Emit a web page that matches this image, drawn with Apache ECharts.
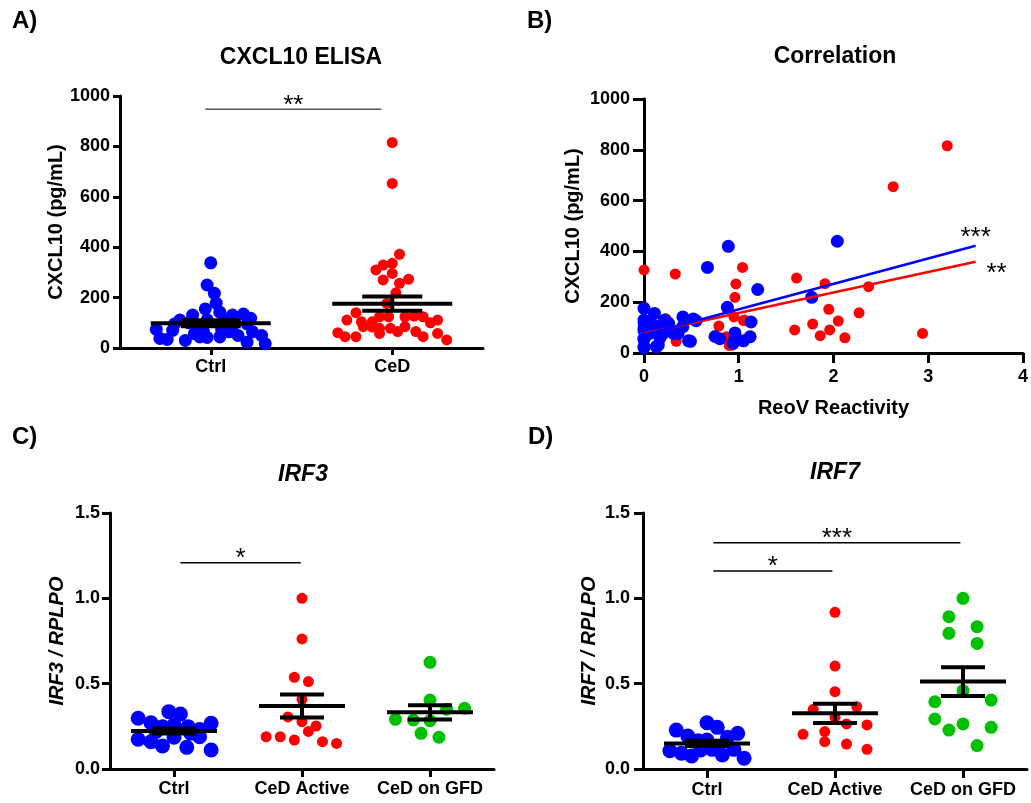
<!DOCTYPE html>
<html>
<head>
<meta charset="utf-8">
<script src="https://cdn.jsdelivr.net/npm/echarts@6.0.0/dist/echarts.min.js"></script>
<style>
  html, body { margin: 0; padding: 0; background: #fff; }
  #main { width: 1031px; height: 803px; }
</style>
</head>
<body>
<div id="main"></div>
<script>
/* A) CXCL10 ELISA : [jitter, pg/mL] */
const elisaCats = ['Ctrl', 'CeD']
const elisaCtrl = [
    [0, 338], [-0.02, 250], [0.02, 217], [0.03, 178], [-0.03, 155], [0.05, 142], [0.18, 135], [0.12, 131],
    [-0.1, 131], [-0.17, 111], [-0.3, 74], [-0.28, 38], [-0.24, 34], [-0.21, 70], [-0.14, 30], [-0.09, 57],
    [-0.06, 44], [-0.02, 42], [0.05, 44], [0.1, 64], [0.15, 50], [0.2, 23], [0.23, 64], [0.28, 50],
    [0.3, 17], [0.2, 96], [-0.12, 100], [-0.02, 112], [0.08, 108], [-0.08, 92], [0.12, 88], [0.22, 118],
    [-0.2, 95], [0.06, 71], [-0.04, 65]
]
const elisaCeD = [
    [0, 815], [0, 653], [0.04, 372], [-0.09, 310], [-0.05, 329], [0, 336], [-0.05, 270], [0, 296],
    [0.09, 273], [0.04, 257], [0.02, 219], [-0.03, 177], [-0.2, 140], [-0.25, 111], [-0.17, 104], [-0.11, 104],
    [-0.16, 85], [-0.11, 83], [-0.07, 124], [-0.02, 124], [0.07, 124], [0.12, 127], [0.17, 124], [0.21, 100],
    [0.25, 111], [-0.07, 78], [-0.01, 78], [0.03, 65], [0.07, 85], [0.13, 65], [0.17, 45], [0.25, 58],
    [0.3, 32], [-0.07, 58], [-0.3, 61], [-0.26, 45], [-0.2, 45]
]
const elisaMean = [[0, 98, 12], [1, 176, 28]]   // [group, mean, sem]
const elisaSig = [[-0.03, 0.94, 947]]
const elisaSigText = ['**']

/* B) Correlation : [ReoV reactivity, pg/mL] */
const corrCeD = [
    [3.2, 816], [2.63, 655], [0, 327], [0.33, 311], [1.04, 337], [0.97, 272], [0.96, 219], [1.61, 295],
    [1.91, 273], [2.37, 261], [1.95, 172], [2.27, 158], [1.78, 114], [1.59, 91], [2.05, 126], [1.96, 91],
    [1.86, 68], [2.12, 60], [2.94, 77], [0.95, 142], [1.05, 128], [0.79, 106], [0.87, 64], [0.93, 31],
    [0.34, 46], [0.23, 135], [0.25, 115], [0.09, 117], [0.2, 128], [0.9, 30], [1.06, 130]
]
const corrCtrl = [
    [2.04, 440], [0.89, 420], [0.67, 337], [1.2, 250], [1.77, 219], [0.88, 180], [0, 176], [0.11, 156],
    [1.13, 122], [0.41, 142], [0.52, 134], [0.22, 130], [0, 130], [0, 97], [0.13, 104], [0.27, 91],
    [0.41, 104], [0.36, 77], [0.2, 77], [0, 58], [0, 25], [0.13, 25], [0.47, 48], [0.75, 65],
    [0.8, 56], [0.96, 79], [0.94, 38], [1.05, 48], [1.12, 64], [0.96, 60], [0, 119], [0, 87],
    [0, 54], [0.06, 77], [0.15, 31], [0.22, 87], [0.26, 117], [0.31, 77], [0.49, 46], [0.55, 127],
    [0, 21], [0.06, 110], [0.17, 60]
]
const fitCtrl = [[0, 72], [3.5, 422]]
const fitCeD = [[0, 77], [3.5, 359]]

/* C) IRF3 / D) IRF7 : [jitter, ratio] */
const qpcrCats = ['Ctrl', 'CeD Active', 'CeD on GFD']
const irf3Ctrl = [
    [-0.28, 0.297], [-0.18, 0.271], [-0.09, 0.248], [-0.04, 0.336], [0.05, 0.322], [0, 0.258], [0.11, 0.248],
    [0.2, 0.232], [0.29, 0.268], [-0.28, 0.174], [-0.18, 0.16], [-0.09, 0.135], [0, 0.186], [0.1, 0.127],
    [0.2, 0.189], [0.29, 0.111], [-0.14, 0.22], [0.13, 0.21]
]
const irf3Active = [
    [0, 1.0], [0, 0.762], [-0.06, 0.537], [0.05, 0.512], [0, 0.408], [-0.11, 0.305], [0, 0.277],
    [0.11, 0.252], [0.05, 0.22], [-0.28, 0.189], [-0.17, 0.189], [-0.06, 0.17], [0.16, 0.16], [0.27, 0.15]
]
const irf3Gfd = [
    [0, 0.625], [0, 0.404], [0.13, 0.35], [0.27, 0.356], [-0.27, 0.291], [-0.13, 0.287], [0, 0.283],
    [-0.07, 0.209], [0.07, 0.186]
]
const irf3Mean = [[0, 0.223, 0.015], [1, 0.369, 0.067], [2, 0.332, 0.042]]
const irf3Sig = [[0.05, 0.99, 1.208]]
const irf3SigText = ['*']

const irf7Ctrl = [
    [-0.24, 0.228], [-0.15, 0.193], [-0.07, 0.166], [0, 0.271], [0.08, 0.244], [0, 0.17], [0.16, 0.186],
    [0.24, 0.209], [-0.29, 0.107], [-0.2, 0.092], [-0.12, 0.076], [-0.05, 0.111], [0.04, 0.115],
    [0.12, 0.082], [0.21, 0.115], [0.29, 0.063]
]
const irf7Active = [
    [0, 0.918], [0, 0.603], [0, 0.453], [-0.17, 0.35], [0.17, 0.365], [0, 0.303], [0.09, 0.264],
    [0.25, 0.258], [-0.25, 0.203], [-0.08, 0.219], [-0.08, 0.16], [0.09, 0.146], [0.25, 0.115]
]
const irf7Gfd = [
    [0, 1.0], [-0.11, 0.892], [0.11, 0.834], [-0.11, 0.795], [0.11, 0.736], [0, 0.459], [-0.22, 0.394],
    [0.22, 0.404], [-0.22, 0.293], [0, 0.264], [-0.11, 0.228], [0.22, 0.244], [0.11, 0.137]
]
const irf7Mean = [[0, 0.15, 0.015], [1, 0.326, 0.057], [2, 0.512, 0.084]]
const irf7Sig = [[0.05, 1.98, 1.326], [0.05, 0.98, 1.16]]
const irf7SigText = ['***', '*']

const BLUE = '#0000ff', RED = '#ff0000', GREEN = '#00c000'
const FONT = '"Liberation Sans", Arial, sans-serif'

/* 平移分组坐标 */
function shift (list, group) {
    return list.map(p => [p[0] + group, p[1]])
}

/* 均值 ± SEM */
function meanSem (halfMean, halfCap) {
    return function (params, api) {
        const x = api.value(0), m = api.value(1), s = api.value(2)
        const c = api.coord([x, m]), hi = api.coord([x, m + s]), lo = api.coord([x, m - s])
        const st = { stroke: '#000', lineWidth: 4 }
        return {
            type: 'group',
            children: [
                { type: 'line', shape: { x1: c[0] - halfMean, y1: c[1], x2: c[0] + halfMean, y2: c[1] }, style: st },
                { type: 'line', shape: { x1: c[0] - halfCap, y1: hi[1], x2: c[0] + halfCap, y2: hi[1] }, style: st },
                { type: 'line', shape: { x1: c[0] - halfCap, y1: lo[1], x2: c[0] + halfCap, y2: lo[1] }, style: st },
                { type: 'line', shape: { x1: c[0], y1: hi[1], x2: c[0], y2: lo[1] }, style: st }
            ]
        }
    }
}

/* 显著性标记 */
function sigBar (texts, color) {
    return function (params, api) {
        const a = api.coord([api.value(0), api.value(2)])
        const b = api.coord([api.value(1), api.value(2)])
        return {
            type: 'group',
            children: [
                { type: 'line', shape: { x1: a[0], y1: a[1], x2: b[0], y2: b[1] }, style: { stroke: color, lineWidth: 1.5 } },
                {
                    type: 'text', x: (a[0] + b[0]) / 2, y: a[1] - 4,
                    style: {
                        text: texts[params.dataIndex], fill: '#000', font: '26px ' + FONT,
                        textAlign: 'center', align: 'center', textVerticalAlign: 'middle', verticalAlign: 'middle'
                    }
                }
            ]
        }
    }
}

function dots (data, color, size, xi, yi) {
    return {
        type: 'scatter', data: data, xAxisIndex: xi, yAxisIndex: yi,
        symbol: 'circle', symbolSize: size, itemStyle: { color: color, opacity: 1 }, z: 2
    }
}

const labelStyle = { color: '#000', fontSize: 18, fontWeight: 'bold', fontFamily: FONT }
const lineStyle = { color: '#000', width: 3 }

function catAxis (grid, cats, tickLen, margin) {
    return {
        type: 'category', gridIndex: grid, data: cats, boundaryGap: true, position: 'bottom',
        axisLine: { show: true, onZero: false, lineStyle: lineStyle },
        axisTick: { show: true, alignWithLabel: true, length: tickLen, lineStyle: lineStyle },
        axisLabel: Object.assign({ margin: margin, interval: 0 }, labelStyle),
        splitLine: { show: false }
    }
}
function hiddenAxis (grid, n) {
    return { type: 'value', gridIndex: grid, min: -0.5, max: n - 0.5, show: false, position: 'bottom' }
}
function valAxis (grid, max, interval, tickLen, margin, name, gap, italic, fmt) {
    return {
        type: 'value', gridIndex: grid, min: 0, max: max, interval: interval,
        name: name, nameLocation: 'middle', nameGap: gap,
        nameTextStyle: { color: '#000', fontSize: 20, fontWeight: 'bold', fontFamily: FONT, fontStyle: italic ? 'italic' : 'normal' },
        axisLine: { show: true, onZero: false, lineStyle: lineStyle },
        axisTick: { show: true, length: tickLen, lineStyle: lineStyle },
        axisLabel: Object.assign({ margin: margin, formatter: fmt }, labelStyle),
        splitLine: { show: false }
    }
}

function title (text, left, top, size, italic) {
    return {
        text: text, left: left, top: top, textAlign: 'center', padding: 0,
        textStyle: { color: '#000', fontSize: size, fontWeight: 'bold', fontFamily: FONT, fontStyle: italic ? 'italic' : 'normal' }
    }
}
function letter (text, left, top) {
    return {
        text: text, left: left, top: top, padding: 0,
        textStyle: { color: '#000', fontSize: 24, fontWeight: 'bold', fontFamily: FONT }
    }
}

const plain = v => String(v)
const fixed1 = v => v.toFixed(1)

const chart = echarts.init(document.getElementById('main'))
chart.setOption({
    animation: false,
    backgroundColor: '#fff',
    title: [
        letter('A)', 12, 9), letter('B)', 527, 9), letter('C)', 12, 425), letter('D)', 528, 425),
        title('CXCL10 ELISA', 301, 46, 23, false),
        title('Correlation', 835, 45, 23, false),
        title('IRF3', 303, 463, 23, true),
        title('IRF7', 835, 461, 23, true)
    ],
    grid: [
        { left: 120, top: 96, width: 363, height: 252 },
        { left: 644, top: 99, width: 382, height: 254 },
        { left: 110, top: 513, width: 384, height: 256 },
        { left: 643, top: 513, width: 384, height: 256 }
    ],
    xAxis: [
        catAxis(0, elisaCats, 7, 10),
        hiddenAxis(0, 2),
        {
            type: 'value', gridIndex: 1, min: 0, max: 4, interval: 1,
            name: 'ReoV Reactivity', nameLocation: 'middle', nameGap: 45,
            nameTextStyle: { color: '#000', fontSize: 20, fontWeight: 'bold', fontFamily: FONT },
            axisLine: { show: true, onZero: false, lineStyle: lineStyle },
            axisTick: { show: true, length: 10, lineStyle: lineStyle },
            axisLabel: Object.assign({ margin: 15 }, labelStyle),
            splitLine: { show: false }
        },
        catAxis(2, qpcrCats, 8, 11),
        hiddenAxis(2, 3),
        catAxis(3, qpcrCats, 9, 12),
        hiddenAxis(3, 3)
    ],
    yAxis: [
        valAxis(0, 1000, 200, 7, 10, 'CXCL10 (pg/mL)', 54, false, plain),
        valAxis(1, 1000, 200, 11, 14, 'CXCL10 (pg/mL)', 61, false, plain),
        valAxis(2, 1.5, 0.5, 8, 10, 'IRF3 / RPLPO', 43, true, fixed1),
        valAxis(3, 1.5, 0.5, 9, 13, 'IRF7 / RPLPO', 44, true, fixed1)
    ],
    series: [
        /* A */
        dots(shift(elisaCtrl, 0), BLUE, 13, 1, 0),
        dots(shift(elisaCeD, 1), RED, 11, 1, 0),
        { type: 'custom', xAxisIndex: 1, yAxisIndex: 0, data: elisaMean, renderItem: meanSem(60, 30), z: 5 },
        { type: 'custom', xAxisIndex: 1, yAxisIndex: 0, data: elisaSig, renderItem: sigBar(elisaSigText, '#555'), z: 5 },

        /* B */
        dots(corrCeD, RED, 11, 2, 1),
        dots(corrCtrl, BLUE, 13, 2, 1),
        {
            type: 'line', xAxisIndex: 2, yAxisIndex: 1, symbol: 'none', z: 4, data: fitCeD,
            lineStyle: { color: RED, width: 2.5 },
            endLabel: {
                show: true, formatter: '**', distance: 0, align: 'center', verticalAlign: 'middle',
                offset: [21, 12], color: '#000', fontSize: 26, fontFamily: FONT
            }
        },
        {
            type: 'line', xAxisIndex: 2, yAxisIndex: 1, symbol: 'none', z: 4, data: fitCtrl,
            lineStyle: { color: BLUE, width: 2.5 },
            endLabel: {
                show: true, formatter: '***', distance: 0, align: 'center', verticalAlign: 'middle',
                offset: [0, -8], color: '#000', fontSize: 26, fontFamily: FONT
            }
        },

        /* C */
        dots(shift(irf3Ctrl, 0), BLUE, 15, 4, 2),
        dots(shift(irf3Active, 1), RED, 11, 4, 2),
        dots(shift(irf3Gfd, 2), GREEN, 13, 4, 2),
        { type: 'custom', xAxisIndex: 4, yAxisIndex: 2, data: irf3Mean, renderItem: meanSem(43, 22), z: 5 },
        { type: 'custom', xAxisIndex: 4, yAxisIndex: 2, data: irf3Sig, renderItem: sigBar(irf3SigText, '#000'), z: 5 },

        /* D */
        dots(shift(irf7Ctrl, 0), BLUE, 15, 6, 3),
        dots(shift(irf7Active, 1), RED, 11, 6, 3),
        dots(shift(irf7Gfd, 2), GREEN, 13, 6, 3),
        { type: 'custom', xAxisIndex: 6, yAxisIndex: 3, data: irf7Mean, renderItem: meanSem(43, 22), z: 5 },
        { type: 'custom', xAxisIndex: 6, yAxisIndex: 3, data: irf7Sig, renderItem: sigBar(irf7SigText, '#000'), z: 5 }
    ]
})
</script>
</body>
</html>
